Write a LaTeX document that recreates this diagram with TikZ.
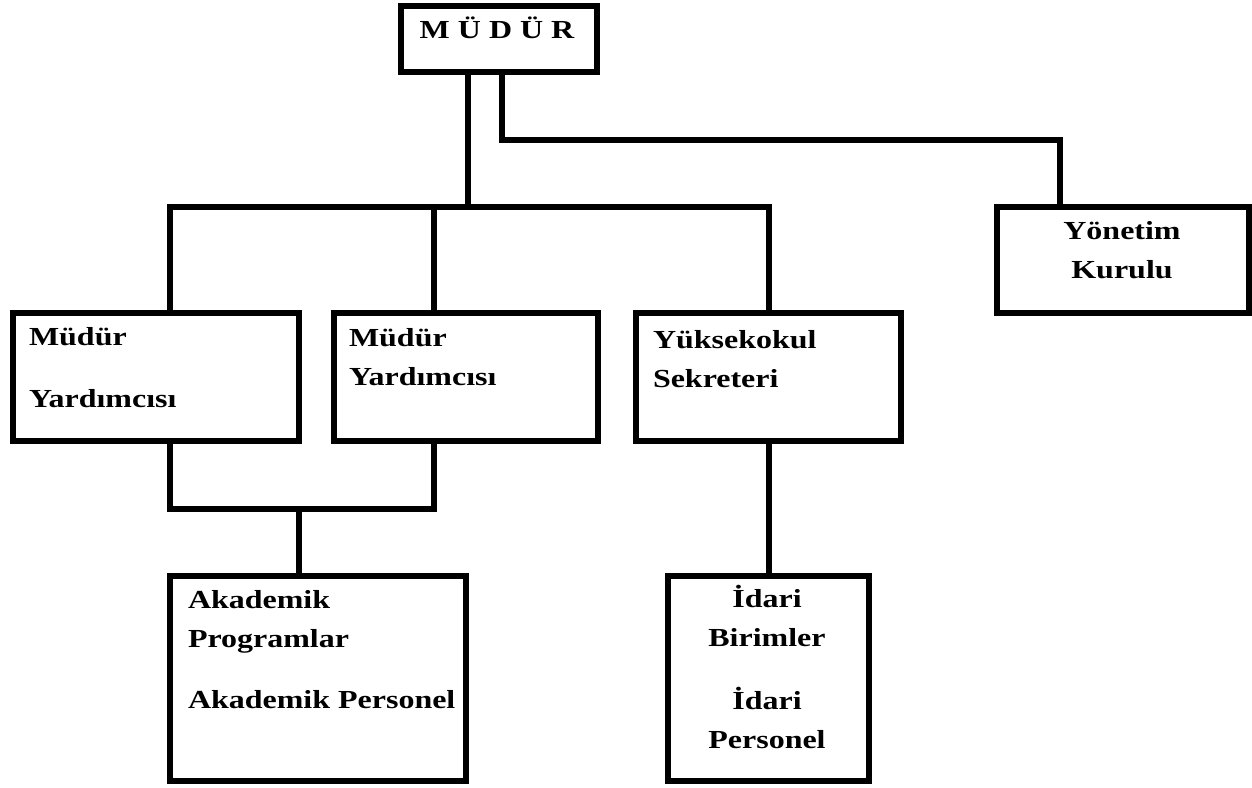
\documentclass[tikz,border=0pt]{standalone}
\usepackage{fontspec}
\setmainfont{Liberation Serif}[FakeStretch=1.23]
\begin{document}
\begin{tikzpicture}[x=0.5pt, y=-0.5pt, line width=3pt,
    unit/.style={draw, line width=3pt, inner sep=0pt},
    txt/.style={inner sep=0pt, align=left, font=\bfseries\fontsize{13}{19.5}\selectfont}]
  \useasboundingbox (0,0) rectangle (1252,787);
  % boxes
  \path (499,39)      node[unit, minimum width=98pt,    minimum height=33pt]    (mudur) {}
        (156,377)     node[unit, minimum width=143pt,   minimum height=64pt]    (my1)   {}
        (466,377)     node[unit, minimum width=132pt,   minimum height=64pt]    (my2)   {}
        (768.5,377)   node[unit, minimum width=132.5pt, minimum height=64pt]    (yuk)   {}
        (1123,260)    node[unit, minimum width=126pt,   minimum height=53pt]    (yon)   {}
        (318,678.5)   node[unit, minimum width=148pt,   minimum height=102.5pt] (akd)   {}
        (768.5,678.5) node[unit, minimum width=100.5pt, minimum height=102.5pt] (idr)   {};
  % texts (anchored at the baseline of their last line)
  \path (497,38)  node[txt, anchor=base]      (mudurt) {M Ü D Ü R}
        (26,407)  node[txt, anchor=base west] (my1t)   {Müdür\\[11.5pt]Yardımcısı}
        (346,385) node[txt, anchor=base west] (my2t)   {Müdür\\Yardımcısı}
        (650,387) node[txt, anchor=base west] (yukt)   {Yüksekokul\\Sekreteri}
        (1122,278) node[txt, anchor=base, align=center] (yont) {Yönetim\\Kurulu}
        (185,708) node[txt, anchor=base west] (akdt)   {Akademik\\Programlar\\[11pt]Akademik Personel}
        (767,748) node[txt, anchor=base, align=center] (idrt) {İdari\\Birimler\\[12pt]İdari\\Personel};
  % connectors
  \coordinate (bus) at (468,207);
  \coordinate (b1) at (170,207);
  \coordinate (b2) at (434,207);
  \coordinate (yk0) at (502,140);
  \coordinate (yk) at (1060,140);
  \coordinate (j) at (299,509);
  \draw (mudur.south -| bus) -- (bus);
  \draw (b1 |- my1.north) -- (b1) -- (yuk.north |- b1) -- (yuk.north);
  \draw (b2) -- (b2 |- my2.north);
  \draw (mudur.south -| yk0) -- (yk0) -- (yk) -- (yk |- yon.north);
  \draw (b1 |- my1.south) |- (j) -| (b2 |- my2.south);
  \draw (j) -- (j |- akd.north);
  \draw (yuk.south) -- (idr.north);
\end{tikzpicture}
\end{document}
